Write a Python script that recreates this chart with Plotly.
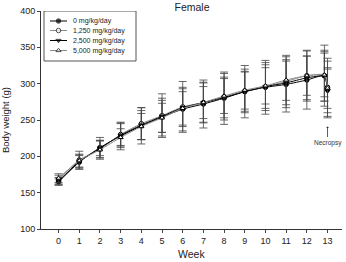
import plotly.graph_objects as go

weeks = [0, 1, 2, 3, 4, 5, 6, 7, 8, 9, 10, 11, 12, 12.85, 13.0]
tick_vals = list(range(14))

series_names = ["0 mg/kg/day", "1,250 mg/kg/day", "2,500 mg/kg/day", "5,000 mg/kg/day"]
mean_0 = [165, 192, 212, 228, 242, 254, 265, 272, 280, 289, 295, 299, 305, 311, 292]
mean_1250 = [168, 195, 210, 230, 245, 256, 268, 274, 282, 290, 296, 303, 311, 311, 295]
mean_2500 = [166, 193, 211, 229, 243, 255, 267, 274, 281, 289, 296, 301, 308, 310, 290]
mean_5000 = [170, 194, 209, 226, 241, 253, 266, 274, 283, 291, 297, 305, 311, 312, 294]
sd_0 = [5, 10, 14, 19, 25, 26, 30, 33, 36, 36, 37, 38, 40, 35, 39]
sd_1250 = [6, 12, 12, 15, 22, 30, 35, 28, 32, 30, 33, 36, 35, 42, 40]
sd_2500 = [5, 8, 10, 17, 20, 22, 26, 27, 28, 27, 30, 30, 30, 34, 30]
sd_5000 = [6, 9, 13, 12, 18, 20, 23, 22, 24, 26, 25, 28, 27, 30, 28]

means = [mean_0, mean_1250, mean_2500, mean_5000]
sds = [sd_0, sd_1250, sd_2500, sd_5000]
styles = [
    dict(symbol="circle", fill="black", line="black"),
    dict(symbol="circle", fill="white", line="#8a8a8a"),
    dict(symbol="triangle-down", fill="black", line="black"),
    dict(symbol="triangle-up", fill="white", line="#8a8a8a"),
]

W, H = 346, 262
ML, MR, MT, MB = 41, 4, 11, 33
PW, PH = W - ML - MR, H - MT - MB

fig = go.Figure()
for name, m, s, st in zip(series_names, means, sds, styles):
    fig.add_trace(go.Scatter(
        x=weeks, y=m, name=name, mode="lines+markers", showlegend=False,
        line=dict(color=st["line"], width=1, shape="spline", smoothing=0.6),
        marker=dict(symbol=st["symbol"], size=4.5, color=st["fill"],
                    line=dict(color="black", width=1)),
        error_y=dict(type="data", array=s, visible=True, color="#444444",
                     thickness=0.8, width=4),
    ))

# compact legend drawn in an overlay axis measured in pixels
leg_rows = [21, 30.5, 40.5, 50.5]
for name, st, ry in zip(series_names, styles, leg_rows):
    fig.add_trace(go.Scatter(
        x=[50, 58.5, 67], y=[ry, ry, ry], mode="lines+markers", showlegend=False,
        xaxis="x2", yaxis="y2", hoverinfo="skip",
        line=dict(color=st["line"], width=1),
        marker=dict(symbol=st["symbol"], size=[0, 4.5, 0], color=st["fill"],
                    line=dict(color="black", width=1)),
    ))
    fig.add_annotation(x=71, y=ry, xref="x2", yref="y2", text=name, showarrow=False,
                       xanchor="left", yanchor="middle", font=dict(size=7, color="#222"))
fig.add_shape(type="rect", xref="x2", yref="y2", x0=44, x1=136, y0=11, y1=61,
              line=dict(color="#555", width=1), fillcolor="rgba(0,0,0,0)")

fig.add_annotation(x=(191.5 - ML) / PW, y=(H - MB - 254) / PH, xref="paper", yref="paper",
                   text="Week", showarrow=False, xanchor="center", yanchor="middle",
                   font=dict(size=10.5, color="#222"))

fig.add_annotation(x=13.0, y=241, ax=0, ay=16, text="Necropsy", showarrow=True,
                   arrowhead=1, arrowsize=0.6, arrowwidth=0.8, arrowcolor="#333",
                   font=dict(size=6.5, color="#333"), xref="x", yref="y")

fig.update_layout(
    width=W, height=H,
    margin=dict(l=ML, r=MR, t=MT, b=MB, autoexpand=False),
    paper_bgcolor="white", plot_bgcolor="white",
    font=dict(family="Liberation Sans, Arial, sans-serif", color="#222", size=9),
    title=dict(text="Female", x=0.555, xanchor="center", y=0.985, yanchor="top",
               font=dict(size=10.5, color="#222")),
    showlegend=False,
    xaxis=dict(range=[-0.85, 13.7], tickvals=tick_vals, ticks="outside", ticklen=3,
               showline=True, linecolor="#333", linewidth=1, showgrid=False, zeroline=False,
               automargin=False),
    yaxis=dict(range=[100, 400], dtick=50, ticks="outside", ticklen=3,
               showline=True, linecolor="#333", linewidth=1, showgrid=False, zeroline=False,
               automargin=False,
               title=dict(text="Body weight (g)", font=dict(size=9.5))),
    xaxis2=dict(range=[ML, W - MR], overlaying="x", anchor="y2", visible=False,
                fixedrange=True),
    yaxis2=dict(range=[H - MB, MT], overlaying="y", anchor="x2", visible=False,
                fixedrange=True),
)

fig.write_html("out.html")
